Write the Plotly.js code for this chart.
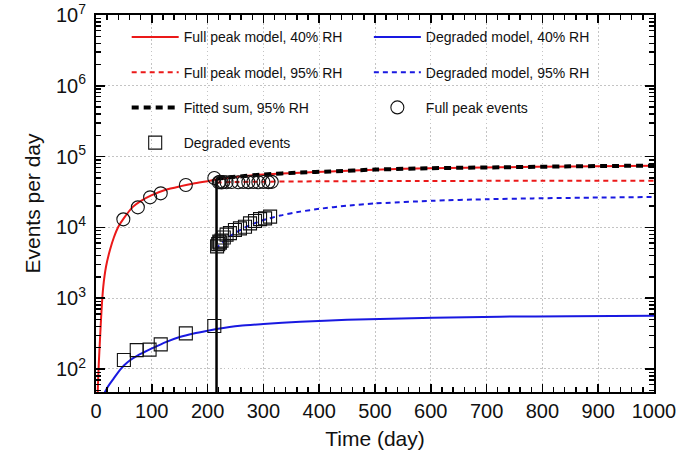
<!DOCTYPE html>
<html>
<head>
<meta charset="utf-8">
<script src="https://cdn.plot.ly/plotly-3.0.1.min.js"></script>
<style>html,body{margin:0;padding:0;background:#fff}</style>
</head>
<body>
<div id="chart" style="width:694px;height:450px"></div>
<script>
// ---- data ----
const full40Days = [2, 3, 5, 7, 10, 13, 18, 25, 32, 40, 50, 66, 80, 100, 125, 150, 175, 200, 216, 250, 300, 366, 420, 500, 600, 724, 850, 1000];
const full40Vals = [15, 45, 120, 250, 700, 1450, 2800, 4800, 7200, 10200, 13500, 19500, 23500, 28500, 34000, 38000, 41800, 45000, 47500, 51500, 55800, 59300, 61500, 65500, 68500, 70600, 72800, 74500];

const deg40Days = [10, 16, 20, 25, 31, 37, 43, 50, 61, 75, 85, 100, 125, 150, 175, 200, 216, 258, 300, 366, 450, 604, 724, 850, 1000];
const deg40Vals = [30, 47, 54, 62, 72, 84, 97, 112, 133, 156, 171, 195, 240, 283, 318, 348, 367, 408, 432, 466, 495, 531, 548, 558, 567];

const full95Days = [216, 250, 300, 400, 600, 800, 1000];
const full95Vals = [43000, 43800, 44200, 44800, 45300, 45600, 45800];

const deg95Days = [216, 220, 240, 260, 276, 300, 330, 366, 400, 450, 500, 604, 700, 783, 900, 1000];
const deg95Vals = [4900, 5500, 7500, 9300, 10800, 12700, 14700, 16700, 18300, 20300, 21800, 23800, 25000, 25700, 26400, 26900];

const fitDays = [216, 250, 300, 366, 420, 500, 600, 724, 850, 1000];
const fitVals = [48500, 51800, 56000, 59500, 61700, 65600, 68600, 70700, 72900, 74700];

const switchDay = 216;
const switchLine = [10, 48000];

const fullEvDays = [49, 75, 97, 116, 161, 212, 220, 222, 225, 228, 234, 243, 255, 264, 273, 282, 291, 300, 309, 315];
const fullEvVals = [13000, 19200, 26600, 30300, 39800, 50000, 43500, 44000, 43200, 43800, 43500, 43700, 43400, 43800, 43600, 43900, 43500, 43800, 43600, 44000];

const degEvDays = [50, 73, 96, 116, 161, 212, 217, 219, 221, 222, 225, 229, 234, 240, 249, 258, 267, 276, 285, 294, 303, 312];
const degEvVals = [134, 185, 188, 223, 319, 404, 5400, 5800, 6300, 6100, 6500, 7200, 7900, 8300, 9200, 9700, 10200, 11400, 12300, 13100, 13400, 14200];

const yExponents = [2, 3, 4, 5, 6, 7];
const yMajorTicks = yExponents.map(function (p) { return Math.pow(10, p); });
const yTickText = yExponents.map(function (p) { return '10<sup>' + p + '</sup>'; });
const yMinorTicks = [];
[10, 100, 1000, 10000, 100000, 1000000].forEach(function (d) {
  for (let k = 2; k <= 9; k++) yMinorTicks.push(d * k);
});

const RED = 'rgb(235,25,25)';
const BLUE = 'rgb(25,25,225)';
const FONT = 'Arial, "Liberation Sans", sans-serif';

const traces = [
  {x: full40Days, y: full40Vals, mode: 'lines', name: 'Full peak model, 40% RH',
   line: {color: RED, width: 2, shape: 'spline', smoothing: 0.6}, legend: 'legend', legendgroup: 'a', legendrank: 1},
  {x: deg40Days, y: deg40Vals, mode: 'lines', name: 'Degraded model, 40% RH',
   line: {color: BLUE, width: 2, shape: 'spline', smoothing: 0.6}, legend: 'legend2', legendgroup: 'b', legendrank: 1},
  {x: full95Days, y: full95Vals, mode: 'lines', name: 'Full peak model, 95% RH',
   line: {color: RED, width: 2, dash: '5px,4px', shape: 'spline', smoothing: 0.6}, legend: 'legend', legendgroup: 'c', legendrank: 2},
  {x: deg95Days, y: deg95Vals, mode: 'lines', name: 'Degraded model, 95% RH',
   line: {color: BLUE, width: 2, dash: '5px,4px', shape: 'spline', smoothing: 0.6}, legend: 'legend2', legendgroup: 'd', legendrank: 2},
  {x: fitDays, y: fitVals, mode: 'lines', name: 'Fitted sum, 95% RH',
   line: {color: 'black', width: 4, dash: '7px,5px', shape: 'spline', smoothing: 0.6}, legend: 'legend', legendgroup: 'e', legendrank: 3},
  {x: [switchDay, switchDay], y: switchLine, mode: 'lines', showlegend: false,
   line: {color: 'black', width: 2.5}},
  {x: fullEvDays, y: fullEvVals, mode: 'markers', name: 'Full peak events',
   marker: {symbol: 'circle-open', size: 13, color: '#111', line: {width: 1.1}},
   legend: 'legend2', legendgroup: 'f', legendrank: 3},
  {x: degEvDays, y: degEvVals, mode: 'markers', name: 'Degraded events',
   marker: {symbol: 'square-open', size: 13, color: '#111', line: {width: 1.1}},
   legend: 'legend', legendgroup: 'g', legendrank: 4}
];

const legendCommon = {
  bgcolor: 'rgba(0,0,0,0)', borderwidth: 0, font: {family: FONT, size: 14, color: '#111'},
  orientation: 'v', tracegroupgap: 14, itemwidth: 47, xanchor: 'left', yanchor: 'top',
  itemclick: false, itemdoubleclick: false
};

const layout = {
  width: 694, height: 450,
  margin: {l: 96, r: 40, t: 15, b: 58},
  paper_bgcolor: 'white', plot_bgcolor: 'white',
  font: {family: FONT, color: '#111'},
  showlegend: true,
  legend: Object.assign({}, legendCommon, {x: 0.055, y: 0.983}),
  legend2: Object.assign({}, legendCommon, {x: 0.489, y: 0.983}),
  xaxis: {
    range: [0, 1000], dtick: 100, tick0: 0,
    ticks: 'inside', ticklen: 8, tickwidth: 1.6, tickcolor: 'black',
    minor: {tick0: 0, dtick: 20, ticks: 'inside', ticklen: 5, tickwidth: 1.4, tickcolor: 'black', showgrid: false},
    showline: true, linecolor: 'black', linewidth: 2, mirror: 'ticks',
    showgrid: true, gridcolor: '#c4c4c4', gridwidth: 1, griddash: '1.5px,2.5px',
    zeroline: false,
    tickfont: {family: FONT, size: 20, color: '#111'},
    title: {text: 'Time (day)', font: {family: FONT, size: 21, color: '#111'}, standoff: 10}
  },
  yaxis: {
    type: 'log', range: [1.675, 7.0005],
    tickmode: 'array', tickvals: yMajorTicks, ticktext: yTickText,
    ticks: 'inside', ticklen: 9, tickwidth: 1.6, tickcolor: 'black',
    minor: {tickmode: 'array', tickvals: yMinorTicks, ticks: 'inside', ticklen: 5, tickwidth: 1.4, tickcolor: 'black', showgrid: false},
    showline: true, linecolor: 'black', linewidth: 2, mirror: 'ticks',
    showgrid: true, gridcolor: '#c4c4c4', gridwidth: 1, griddash: '1.5px,2.5px',
    zeroline: false,
    tickfont: {family: FONT, size: 20, color: '#111'},
    ticklabelstandoff: 4,
    title: {text: 'Events per day', font: {family: FONT, size: 21, color: '#111'}, standoff: 10}
  },
  shapes: [
    {type: 'rect', xref: 'paper', yref: 'paper', layer: 'between',
     x0: 0.052, x1: 0.925, y0: 0.617, y1: 0.982,
     fillcolor: 'white', line: {width: 0}}
  ]
};

Plotly.newPlot('chart', traces, layout, {displayModeBar: false, staticPlot: true});
</script>
</body>
</html>
